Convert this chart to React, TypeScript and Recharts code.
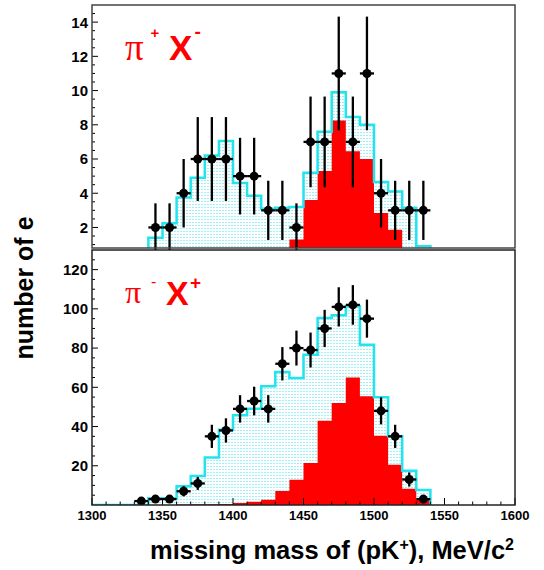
import React from 'react';
import { ComposedChart, Area, Line, Scatter, ErrorBar, XAxis, YAxis } from 'recharts';

// ---- data ----
const binLowEdges = [1300, 1310, 1320, 1330, 1340, 1350, 1360, 1370, 1380, 1390, 1400, 1410, 1420, 1430, 1440, 1450, 1460, 1470, 1480, 1490, 1500, 1510, 1520, 1530];
const histEnd = 1540;

// pi+ X- panel
const topSim = [0, 0, 0, 0, 1.4, 2.25, 3.75, 4.9, 6.2, 7.05, 4.6, 3.85, 3.1, 3.15, 3.2, 5.2, 7.6, 9.9, 8.45, 8.0, 4.65, 4.1, 3.15, 0.9];
const topSigma = [0, 0, 0, 0, 0, 0, 0, 0, 0, 0, 0, 0, 0, 0, 1.3, 3.6, 5.3, 8.25, 6.45, 6.0, 2.85, 1.87, 0, 0];
const topCenters = [1345, 1355, 1365, 1375, 1385, 1395, 1405, 1415, 1425, 1435, 1445, 1455, 1465, 1475, 1485, 1495, 1505, 1515, 1525, 1535];
const topCounts = [2, 2, 4, 6, 6, 6, 5, 5, 3, 3, 2, 7, 7, 11, 7, 11, 4, 3, 3, 3];
const topErrors = [1.41, 1.41, 2, 2.45, 2.45, 2.45, 2.24, 2.24, 1.73, 1.73, 1.41, 2.65, 2.65, 3.32, 2.65, 3.32, 2, 1.73, 1.73, 1.73];

// pi- X+ panel
const botSim = [0, 0, 0, 0, 3.5, 3.5, 9.5, 14.8, 24.2, 38.4, 45.7, 49.1, 60.5, 67.8, 64.7, 76.6, 95.3, 96.7, 101.3, 81.7, 54.9, 35, 17.4, 7.6];
const botSigma = [0, 0, 0, 0, 0, 0, 0.3, 0.4, 0.4, 0.5, 1.0, 1.6, 2.7, 7.2, 12.9, 21.4, 43, 52, 65, 55.4, 35.3, 20.5, 8.3, 2.7];
const botCenters = [1335, 1345, 1355, 1365, 1375, 1385, 1395, 1405, 1415, 1425, 1435, 1445, 1455, 1465, 1475, 1485, 1495, 1505, 1515, 1525, 1535];
const botCounts = [2, 3, 3, 7, 11, 35, 38, 49, 53, 49, 72, 80, 79, 90, 101, 102, 95, 48, 35, 13, 3];
const botErrors = [1.4, 1.7, 1.7, 2.6, 3.3, 5.9, 6.2, 7, 7.3, 7, 8.5, 8.9, 8.9, 9.5, 10, 10.1, 9.7, 6.9, 5.9, 3.6, 1.7];
const binHalfWidth = 5;

// ticks
const xMajorLabels = [1300, 1350, 1400, 1450, 1500, 1550, 1600];
const xMinorStep = 10;
const topYMajor = [2, 4, 6, 8, 10, 12, 14];
const topYMinorStep = 0.5;
const botYMajor = [20, 40, 60, 80, 100, 120];
const botYMinorStep = 5;

// ---- helpers ----
const histRows = (sim: number[], sig: number[]) => {
  const rows = binLowEdges.map((x, i) => ({ x, sim: sim[i], sig: sig[i] }));
  rows.push({ x: histEnd, sim: 0, sig: 0 });
  return rows;
};
const pointRows = (c: number[], n: number[], e: number[]) =>
  c.map((x, i) => ({ x, y: n[i], ey: e[i], ex: binHalfWidth }));

const stepTicks = (from: number, to: number, step: number) => {
  const out: number[] = [];
  for (let v = from; v <= to + 1e-9; v += step) out.push(Math.round(v * 100) / 100);
  return out;
};

const FONT = '"Liberation Sans", Arial, sans-serif';
const CYAN = '#22e4ee';

const YTick = (majors: number[]) => (props: any) => {
  const { x, y, payload } = props;
  const v = payload.value;
  const major = majors.includes(v);
  return (
    <g>
      <line x1={x} x2={x + (major ? 6 : 3)} y1={y} y2={y} stroke="#000" strokeWidth={1} />
      {major && (
        <text x={x - 4} y={y} dy="0.36em" textAnchor="end" fontFamily={FONT} fontWeight="bold" fontSize={15} fill="#000">
          {v}
        </text>
      )}
    </g>
  );
};

const XTick = (props: any) => {
  const { x, y, payload } = props;
  const v = payload.value;
  const major = xMajorLabels.includes(v);
  return (
    <g>
      <line x1={x} x2={x} y1={y} y2={y - (major ? 7 : 3.5)} stroke="#000" strokeWidth={1} />
      {major && (
        <text x={x} y={y + 15} textAnchor="middle" fontFamily={FONT} fontWeight="bold" fontSize={13} fill="#000">
          {v}
        </text>
      )}
    </g>
  );
};

const dot = (p: any) => <circle cx={p.cx} cy={p.cy} r={4.5} fill="#000" />;

const Panel = ({
  height, margin, sim, sig, centers, counts, errors, domain, majors, minorStep, minorFrom, showX, pid,
}: any) => (
  <ComposedChart width={544} height={height} margin={margin} data={histRows(sim, sig)}>
    <defs>
      <pattern id={pid} patternUnits="userSpaceOnUse" width={3} height={3}>
        <rect x={0} y={0} width={3} height={3} fill="#ffffff" />
        <rect x={0} y={0} width={2} height={1} fill="#9eeff6" />
      </pattern>
    </defs>
    <XAxis
      type="number"
      dataKey="x"
      domain={[1300, 1600]}
      ticks={stepTicks(1300, 1600, xMinorStep)}
      interval={0}
      hide={!showX}
      height={showX ? 65 : 0}
      axisLine={false}
      tickLine={false}
      tickSize={0}
      tickMargin={0}
      tick={XTick}
      allowDataOverflow
    />
    <YAxis
      type="number"
      width={92}
      domain={domain}
      allowDataOverflow
      ticks={stepTicks(minorFrom, domain[1] - minorStep, minorStep)}
      interval={0}
      axisLine={false}
      tickLine={false}
      tickSize={0}
      tickMargin={0}
      tick={YTick(majors)}
    />
    <Area type="stepAfter" dataKey="sim" stroke="none" fill={`url(#${pid})`} fillOpacity={1} isAnimationActive={false} />
    <Area type="stepAfter" dataKey="sig" stroke="none" fill="#ff0000" fillOpacity={1} isAnimationActive={false} />
    <Line type="stepAfter" dataKey="sim" stroke={CYAN} strokeWidth={2.5} dot={false} isAnimationActive={false} />
    <Scatter data={pointRows(centers, counts, errors)} dataKey="y" shape={dot} isAnimationActive={false}>
      <ErrorBar dataKey="ey" direction="y" width={0} stroke="#000" strokeWidth={2.3} />
      <ErrorBar dataKey="ex" direction="x" width={0} stroke="#000" strokeWidth={2.3} />
    </Scatter>
  </ComposedChart>
);

export default function App() {
  return (
    <div style={{ position: 'absolute', left: 0, top: 0, width: 544, height: 570, background: '#fff' }}>
      <div style={{ position: 'absolute', left: 0, top: 0 }}>
        <Panel
          height={250}
          margin={{ top: 5, right: 29, bottom: 2, left: 0 }}
          sim={topSim}
          sig={topSigma}
          centers={topCenters}
          counts={topCounts}
          errors={topErrors}
          domain={[0.8, 15]}
          majors={topYMajor}
          minorStep={topYMinorStep}
          minorFrom={1}
          showX={false}
          pid="dotsTop"
        />
      </div>
      <div style={{ position: 'absolute', left: 0, top: 250 }}>
        <Panel
          height={320}
          margin={{ top: 0, right: 29, bottom: 0, left: 0 }}
          sim={botSim}
          sig={botSigma}
          centers={botCenters}
          counts={botCounts}
          errors={botErrors}
          domain={[0, 130]}
          majors={botYMajor}
          minorStep={botYMinorStep}
          minorFrom={5}
          showX={true}
          pid="dotsBot"
        />
      </div>
      <svg width={544} height={570} style={{ position: 'absolute', left: 0, top: 0, pointerEvents: 'none' }}>
        <rect x={92} y={5} width={423} height={243} fill="none" stroke="#444" strokeWidth={1.5} />
        <rect x={92} y={250} width={423} height={255} fill="none" stroke="#222" strokeWidth={1.5} />
        {/* panel labels */}
        <text x={125} y={59.5} fontFamily='"Liberation Serif", serif' fontSize={37} fill="#ff0000">π</text>
        <text x={150.5} y={38} fontFamily={FONT} fontWeight="bold" fontSize={15} fill="#ff0000">+</text>
        <text x={169} y={59.5} fontFamily={FONT} fontWeight="bold" fontSize={35} fill="#ff0000">X</text>
        <text x={194.5} y={38} fontFamily={FONT} fontWeight="bold" fontSize={19} fill="#ff0000">-</text>

        <text x={125} y={303} fontFamily='"Liberation Serif", serif' fontSize={32} fill="#ff0000">π</text>
        <text x={151} y={287} fontFamily={FONT} fontSize={16} fill="#ff0000">-</text>
        <text x={166} y={305} fontFamily={FONT} fontWeight="bold" fontSize={34} fill="#ff0000">X</text>
        <text x={190} y={289} fontFamily={FONT} fontWeight="bold" fontSize={19} fill="#ff0000">+</text>

        {/* axis titles */}
        <text x={33} y={288} transform="rotate(-90 33 288)" textAnchor="middle" fontFamily={FONT} fontWeight="bold" fontSize={25} fill="#000">
          number of e
        </text>
        <text x={514} y={559} textAnchor="end" fontFamily={FONT} fontWeight="bold" fontSize={25.5} fill="#000">
          missing mass of (pK<tspan dy={-9} fontSize={16}>+</tspan>
          <tspan dy={9}>), MeV/c</tspan>
          <tspan dy={-9} fontSize={16}>2</tspan>
        </text>
      </svg>
    </div>
  );
}
